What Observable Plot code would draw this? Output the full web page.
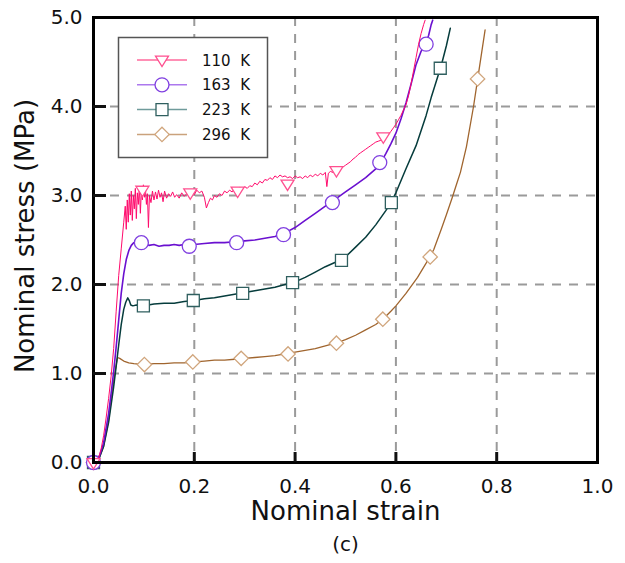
<!DOCTYPE html>
<html><head><meta charset="utf-8">
<script src="https://cdn.jsdelivr.net/npm/d3@7"></script>
<script src="https://cdn.jsdelivr.net/npm/@observablehq/plot@0.6"></script>
<style>
body{margin:0;background:#fff;}
#wrap{position:relative;width:625px;height:563px;}
#wrap svg{display:block;}
#legend{position:absolute;left:0;top:0;pointer-events:none;}
</style></head><body><div id="wrap"></div>
<script>
// ---- data ----
const legendLabels = ["110  K", "163  K", "223  K", "296  K"];
const xTicks = [0, 0.2, 0.4, 0.6, 0.8, 1.0];
const yTicks = [0, 1, 2, 3, 4, 5];
const xTitle = "Nominal strain";
const yTitle = "Nominal stress (MPa)";
const caption = "(c)";

const curve110 = [[0,0],[0.005,0.01],[0.01,0.05],[0.015,0.15],[0.02,0.3],[0.025,0.5],[0.03,0.72],[0.035,0.97],[0.04,1.28],[0.045,1.7],[0.05,2.1],[0.055,2.4],[0.06,2.7],[0.063,2.88],
[0.065,2.62],[0.067,2.95],[0.069,2.7],[0.071,3.02],[0.073,2.78],[0.075,3.05],[0.077,2.72],[0.079,3.0],[0.081,2.85],[0.083,3.08],[0.085,2.74],[0.087,3.03],[0.089,2.9],[0.091,3.1],[0.093,2.8],[0.095,3.06],[0.097,2.95],[0.099,3.12],[0.101,2.98],[0.103,3.08],[0.105,2.9],[0.107,3.02],[0.109,2.64],[0.111,3.0],[0.114,2.92],[0.117,3.05],[0.12,2.95],[0.123,3.04],[0.126,2.96],[0.129,3.06],[0.132,2.98],[0.135,3.03],[0.138,2.93],[0.141,3.05],[0.145,2.97],[0.149,3.02],[0.153,2.99],[0.157,3.04],[0.161,2.98],[0.165,3.01],[0.17,2.97],[0.175,3.03],[0.18,2.99],[0.185,3.02],[0.19,3.0],[0.195,3.04],[0.2,3.01],[0.205,3.06],[0.21,3.03],[0.215,3.05],[0.22,2.98],[0.224,2.86],[0.228,2.92],[0.232,2.97],[0.236,2.95],[0.24,3.0],[0.245,2.98],[0.25,3.02],[0.255,3.0],[0.26,3.05],[0.265,3.03],[0.27,3.06],[0.275,3.04],[0.28,3.08],[0.285,3.05],[0.29,3.09],[0.295,3.07],[0.3,3.1],[0.305,3.08],[0.31,3.11],[0.315,3.1],[0.32,3.14],[0.325,3.12],[0.33,3.16],[0.335,3.14],[0.34,3.18],[0.345,3.17],[0.35,3.2],[0.355,3.18],[0.36,3.22],[0.365,3.2],[0.37,3.23],[0.375,3.21],[0.38,3.22],[0.385,3.2],[0.39,3.21],[0.395,3.19],[0.4,3.22],[0.405,3.2],[0.41,3.21],[0.415,3.19],[0.42,3.22],[0.425,3.2],[0.43,3.23],[0.435,3.21],[0.44,3.24],[0.445,3.22],[0.45,3.25],[0.455,3.23],[0.46,3.26],[0.463,3.1],[0.466,3.25],[0.47,3.27],[0.475,3.26],[0.48,3.29],[0.485,3.28],[0.49,3.3],[0.495,3.32],[0.5,3.34],[0.505,3.36],[0.51,3.38],[0.515,3.41],[0.52,3.43],[0.525,3.46],[0.53,3.48],[0.535,3.5],[0.54,3.52],[0.545,3.54],[0.55,3.56],[0.555,3.58],[0.56,3.6],[0.565,3.61],[0.57,3.62],[0.575,3.64],[0.58,3.66],[0.585,3.69],[0.59,3.72],[0.595,3.76],[0.6,3.8],[0.605,3.85],[0.61,3.9],[0.615,3.96],[0.62,4.02],[0.625,4.12],[0.63,4.25],[0.635,4.4],[0.64,4.55],[0.645,4.7],[0.65,4.82],[0.655,4.92],[0.658,4.97]];

const curve163 = [[0,0],[0.01,0.04],[0.02,0.22],[0.03,0.55],[0.035,0.78],[0.04,1.02],[0.045,1.3],[0.05,1.6],[0.055,1.9],[0.06,2.12],[0.065,2.28],[0.07,2.38],[0.075,2.44],[0.08,2.47],[0.09,2.49],[0.1,2.46],[0.11,2.44],[0.12,2.45],[0.13,2.43],[0.14,2.44],[0.15,2.44],[0.16,2.45],[0.17,2.44],[0.18,2.45],[0.19,2.44],[0.2,2.45],[0.22,2.46],[0.24,2.47],[0.26,2.47],[0.28,2.48],[0.3,2.49],[0.32,2.5],[0.34,2.52],[0.36,2.54],[0.38,2.58],[0.4,2.64],[0.42,2.72],[0.44,2.8],[0.46,2.88],[0.48,2.96],[0.5,3.04],[0.52,3.12],[0.54,3.2],[0.56,3.3],[0.57,3.37],[0.58,3.47],[0.59,3.58],[0.6,3.7],[0.61,3.86],[0.62,4.04],[0.63,4.25],[0.64,4.47],[0.65,4.62],[0.66,4.72],[0.665,4.8],[0.67,4.92],[0.673,4.97]];

const curve223 = [[0,0],[0.01,0.03],[0.02,0.18],[0.03,0.45],[0.04,0.85],[0.045,1.08],[0.05,1.32],[0.055,1.55],[0.06,1.72],[0.064,1.8],[0.068,1.85],[0.071,1.82],[0.074,1.77],[0.078,1.76],[0.085,1.77],[0.09,1.76],[0.1,1.76],[0.12,1.78],[0.14,1.79],[0.16,1.79],[0.18,1.81],[0.2,1.82],[0.22,1.84],[0.24,1.85],[0.26,1.87],[0.28,1.89],[0.3,1.91],[0.32,1.93],[0.34,1.95],[0.36,1.97],[0.38,2.0],[0.4,2.03],[0.42,2.08],[0.44,2.14],[0.46,2.2],[0.48,2.25],[0.5,2.31],[0.52,2.42],[0.54,2.53],[0.56,2.67],[0.58,2.83],[0.59,2.92],[0.6,3.03],[0.62,3.3],[0.64,3.56],[0.66,3.9],[0.67,4.1],[0.68,4.28],[0.69,4.46],[0.7,4.68],[0.708,4.88]];

const curve296 = [[0,0],[0.01,0.03],[0.02,0.18],[0.03,0.48],[0.035,0.7],[0.04,0.92],[0.045,1.1],[0.048,1.18],[0.052,1.17],[0.06,1.14],[0.07,1.12],[0.08,1.11],[0.1,1.1],[0.12,1.11],[0.14,1.11],[0.16,1.12],[0.18,1.12],[0.2,1.13],[0.22,1.14],[0.24,1.15],[0.26,1.15],[0.28,1.16],[0.3,1.17],[0.32,1.18],[0.34,1.19],[0.36,1.2],[0.38,1.22],[0.4,1.24],[0.42,1.26],[0.44,1.28],[0.46,1.31],[0.48,1.34],[0.5,1.38],[0.52,1.43],[0.54,1.49],[0.56,1.55],[0.574,1.61],[0.59,1.7],[0.6,1.76],[0.62,1.9],[0.643,2.08],[0.66,2.24],[0.675,2.39],[0.69,2.62],[0.7,2.78],[0.712,2.98],[0.72,3.12],[0.728,3.26],[0.74,3.55],[0.754,4.0],[0.762,4.3],[0.77,4.6],[0.777,4.86]];

const markers110 = [[0,0],[0.097,3.06],[0.192,3.03],[0.286,3.05],[0.385,3.13],[0.482,3.28],[0.575,3.66]];
const markers163 = [[0,0],[0.095,2.47],[0.19,2.43],[0.284,2.47],[0.377,2.56],[0.474,2.92],[0.568,3.37],[0.66,4.70]];
const markers223 = [[0,0],[0.099,1.76],[0.198,1.82],[0.296,1.90],[0.395,2.02],[0.492,2.27],[0.591,2.92],[0.688,4.43]];
const markers296 = [[0,0],[0.101,1.10],[0.197,1.13],[0.293,1.17],[0.386,1.22],[0.482,1.34],[0.574,1.61],[0.668,2.31],[0.762,4.31]];

// ---- styles ----
const lineColor = ["#ff0a6c", "#6a10d0", "#063c3c", "#a0652e"];
const markStroke = ["#ff4f8f", "#8040e0", "#2f5f5f", "#d0a57c"];
const legLine = ["#ff6a9c", "#ac78ee", "#6f9b9b", "#caa27c"];
const lineWidth = [1, 1.6, 1.5, 1.3];

const triDown = {draw(ctx, size){ const r = Math.sqrt(size/Math.PI);
  ctx.moveTo(-r, -0.6*r); ctx.lineTo(r, -0.6*r); ctx.lineTo(0, r); ctx.closePath(); }};
const squareSym = {draw(ctx, size){ const r = Math.sqrt(size/Math.PI);
  ctx.moveTo(-r,-r); ctx.lineTo(r,-r); ctx.lineTo(r,r); ctx.lineTo(-r,r); ctx.closePath(); }};
const diamondSym = {draw(ctx, size){ const r = Math.sqrt(size/Math.PI);
  ctx.moveTo(0,-r); ctx.lineTo(r,0); ctx.lineTo(0,r); ctx.lineTo(-r,0); ctx.closePath(); }};
const symbols = [triDown, d3.symbolCircle, squareSym, diamondSym];
const symR = [6.5, 7, 6, 7.2];

const curves = [curve110, curve163, curve223, curve296];
const markerSets = [markers110, markers163, markers223, markers296];

const seriesMarks = [];
for (let i = curves.length - 1; i >= 0; i--) {
  seriesMarks.push(Plot.line(curves[i], {x: d => d[0], y: d => d[1], stroke: lineColor[i], strokeWidth: lineWidth[i]}));
  seriesMarks.push(Plot.dot(markerSets[i], {x: d => d[0], y: d => d[1], symbol: symbols[i], r: symR[i], stroke: markStroke[i], fill: "white", strokeWidth: 1.3}));
}

const fmt = d3.format(".1f");
const gridStyle = {stroke: "#9a9a9a", strokeOpacity: 1, strokeWidth: 2, strokeDasharray: "9,8"};

const plot = Plot.plot({
  width: 625, height: 563,
  marginTop: 17, marginRight: 28, marginBottom: 101, marginLeft: 93,
  style: {fontFamily: "'DejaVu Sans', sans-serif", background: "white", color: "#111"},
  x: {domain: [0, 1]},
  y: {domain: [0, 5]},
  marks: [
    Plot.gridX(xTicks.filter(t => t > 0 && t < 1), gridStyle),
    Plot.gridY(yTicks.filter(t => t > 0 && t < 5), gridStyle),
    ...seriesMarks,
    Plot.frame({stroke: "black", strokeWidth: 3}),
    Plot.axisX(xTicks.filter(t => t > 0 && t < 1), {tickSize: -10, strokeWidth: 3, tickFormat: () => "", label: null}),
    Plot.axisY(yTicks.filter(t => t > 0 && t < 5), {tickSize: -13, strokeWidth: 3, tickFormat: () => "", label: null}),
    Plot.axisX(xTicks, {tickSize: 0, tickPadding: 16, tickFormat: fmt, fontSize: 20, label: null}),
    Plot.axisY(yTicks, {tickSize: 0, tickPadding: 11, tickFormat: fmt, fontSize: 20, label: null}),
    Plot.text([xTitle], {frameAnchor: "bottom", dy: 57, text: d => d, fontSize: 26}),
    Plot.text([caption], {frameAnchor: "bottom", dy: 88, text: d => d, fontSize: 20}),
    Plot.text([yTitle], {frameAnchor: "left", dx: -68, dy: -4, rotate: -90, textAnchor: "middle", text: d => d, fontSize: 26})
  ]
});
document.getElementById("wrap").appendChild(plot);

// ---- legend (overlay) ----
const leg = d3.select("#wrap").append("svg").attr("id", "legend").attr("width", 625).attr("height", 563);
leg.append("rect").attr("x", 118.5).attr("y", 37.5).attr("width", 149).attr("height", 120)
  .attr("fill", "white").attr("stroke", "#555").attr("stroke-width", 1.5);
legendLabels.forEach((lab, i) => {
  const y = 60 + i * 24.8;
  const g = leg.append("g");
  g.append("line").attr("x1", 137).attr("x2", 187).attr("y1", y).attr("y2", y)
    .attr("stroke", legLine[i]).attr("stroke-width", 1.5);
  g.append("path").attr("transform", `translate(162,${y})`)
    .attr("d", d3.symbol(symbols[i], Math.PI * symR[i] * symR[i])())
    .attr("fill", "white").attr("stroke", markStroke[i]).attr("stroke-width", 1.3);
  g.append("text").attr("x", 202).attr("y", y + 5.5).text(lab)
    .attr("font-family", "'DejaVu Sans', sans-serif").attr("font-size", 15).attr("fill", "#111")
    .style("white-space", "pre");
});
</script></body></html>
